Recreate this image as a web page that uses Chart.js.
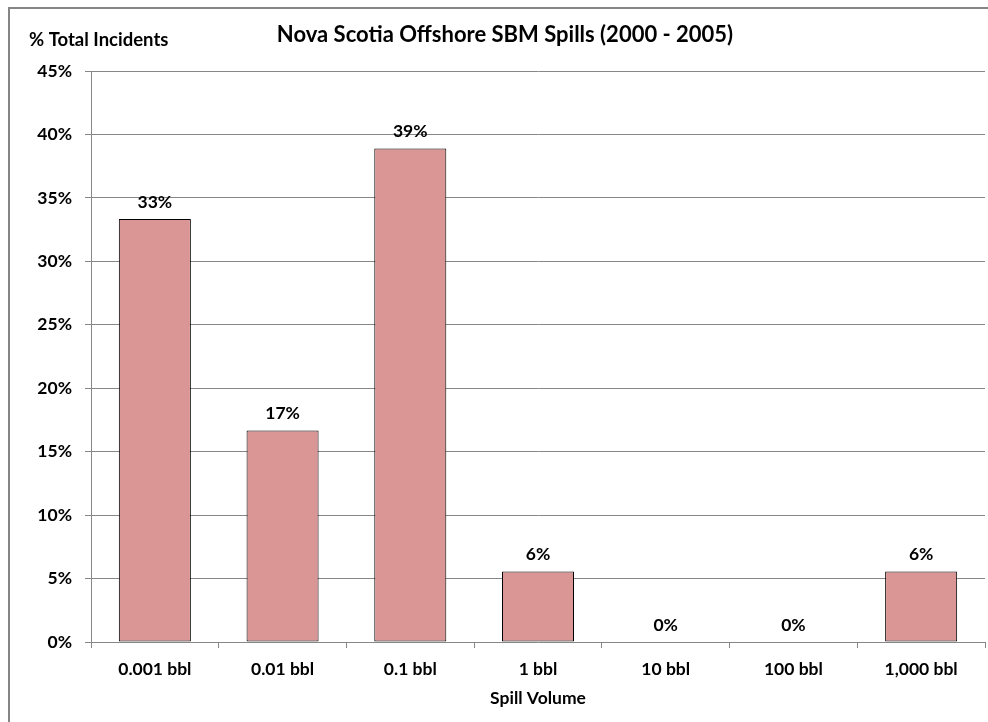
<!DOCTYPE html>
<html>
<head>
<meta charset="utf-8">
<title>Nova Scotia Offshore SBM Spills (2000 - 2005)</title>
<script src="https://cdn.jsdelivr.net/npm/chart.js@4.4.1/dist/chart.umd.min.js"></script>
<style>
  html, body { margin: 0; padding: 0; background: #fff; overflow: hidden; }
  body { width: 988px; height: 722px; position: relative; }
  .chart-box {
    position: absolute;
    left: 8px;
    top: 7px;
    width: 1005px;
    height: 716px;
    border: 2px solid #858585;
    background: #fff;
  }
  canvas { display: block; }
</style>
</head>
<body>
<div class="chart-box">
  <canvas id="spillChart" width="1005" height="716"></canvas>
</div>
<script>
// Spill volume bins and share of total incidents (%)
const volumeLabels = ['0.001 bbl', '0.01 bbl', '0.1 bbl', '1 bbl', '10 bbl', '100 bbl', '1,000 bbl'];
const incidentShare = [33.33, 16.67, 38.89, 5.56, 0, 0, 5.56];

// Axis range
const yMin = 0;
const yMax = 45;
const yStep = 5;

const chartFont = 'Lato, "Open Sans", "DejaVu Sans", sans-serif';
const gridGray = '#878787';

// --- Value labels above each bar ---
const barValueLabels = {
    id: 'barValueLabels',
    afterDatasetsDraw(chart) {
        const ctx = chart.ctx;
        const meta = chart.getDatasetMeta(0);
        ctx.save();
        ctx.font = 'bold 17.5px ' + chartFont;
        ctx.fillStyle = '#000';
        ctx.textAlign = 'center';
        ctx.textBaseline = 'middle';
        meta.data.forEach((bar, i) => {
            const value = chart.data.datasets[0].data[i];
            ctx.fillText(Math.round(value) + '%', bar.x, bar.y - 17);
        });
        ctx.restore();
    }
};

// --- Horizontal y-axis caption at the top left ---
const yCaption = {
    id: 'yCaption',
    afterDraw(chart) {
        const ctx = chart.ctx;
        ctx.save();
        ctx.font = 'bold 18.5px ' + chartFont;
        ctx.fillStyle = '#000';
        ctx.textAlign = 'left';
        ctx.textBaseline = 'middle';
        ctx.fillText('% Total Incidents', 19, 31);
        ctx.restore();
    }
};

const ctx = document.getElementById('spillChart').getContext('2d');
const spillChart = new Chart(ctx, {
    type: 'bar',
    data: {
        labels: volumeLabels,
        datasets: [{
            data: incidentShare,
            backgroundColor: '#d99694',
            borderColor: '#000',
            borderWidth: 1,
            borderSkipped: false,
            categoryPercentage: 1,
            barPercentage: 0.564
        }]
    },
    options: {
        responsive: false,
        animation: false,
        devicePixelRatio: 1,
        layout: {
            // left padding keeps the title centred on the whole chart box
            padding: { left: 15, right: 30, top: 0, bottom: 0 }
        },
        plugins: {
            legend: { display: false },
            tooltip: { enabled: false },
            title: {
                display: true,
                text: 'Nova Scotia Offshore SBM Spills (2000 - 2005)',
                color: '#000',
                font: { family: chartFont, size: 22, weight: 'bold', lineHeight: 1.2 },
                padding: { top: 13, bottom: 22.6 }
            }
        },
        scales: {
            x: {
                afterFit(scale) { scale.height = 83; },
                grid: {
                    display: true,
                    offset: true,
                    drawOnChartArea: false,
                    drawTicks: true,
                    tickLength: 6,
                    color: gridGray
                },
                border: { display: false },
                ticks: {
                    color: '#000',
                    padding: 11,
                    maxRotation: 0,
                    font: { family: chartFont, size: 17.5, weight: 'bold' }
                },
                title: {
                    display: true,
                    text: 'Spill Volume',
                    color: '#000',
                    font: { family: chartFont, size: 17.5, weight: 'bold', lineHeight: 1.2 },
                    padding: { top: 0, bottom: 16 }
                }
            },
            y: {
                min: yMin,
                max: yMax,
                afterFit(scale) { scale.width = 66; },
                grid: {
                    color: gridGray,
                    lineWidth: 1,
                    drawTicks: true,
                    tickLength: 6
                },
                border: { display: true, color: gridGray, width: 1 },
                ticks: {
                    stepSize: yStep,
                    color: '#000',
                    padding: 13,
                    font: { family: chartFont, size: 17.5, weight: 'bold' },
                    callback: value => value + '%'
                }
            }
        }
    },
    plugins: [barValueLabels, yCaption]
});
</script>
</body>
</html>
